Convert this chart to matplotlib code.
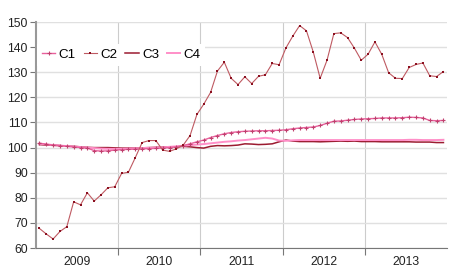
import matplotlib
matplotlib.use("Agg")
import matplotlib.pyplot as plt
import numpy as np

years = ["2009", "2010", "2011", "2012", "2013"]

c1 = [101.8, 101.3, 101.0, 100.8, 100.5, 100.3, 100.0, 99.8, 98.8, 98.6, 98.7, 99.0,
      99.2, 99.3, 99.4, 99.5, 99.6, 99.7, 99.8, 100.0, 100.3, 100.8, 101.5, 102.3,
      103.0, 104.0, 104.8, 105.5, 106.0, 106.3, 106.5, 106.6, 106.7, 106.7, 106.8, 106.9,
      107.1, 107.5, 107.8, 108.0, 108.2, 108.8, 109.7, 110.5, 110.6, 110.9, 111.2, 111.4,
      111.5, 111.6, 111.8, 111.8, 111.8, 111.9, 112.1, 112.0, 111.8, 110.8, 110.7, 110.8]

c2 = [67.8, 65.6, 63.6, 66.6, 68.5, 78.4, 77.2, 82.0, 78.7, 81.2, 84.0, 84.4,
      89.7, 90.2, 96.0, 102.0, 102.8, 102.8, 99.0, 98.5, 99.5, 101.0, 104.8, 113.2,
      117.3, 122.0, 130.5, 134.0, 127.6, 125.1, 128.2, 125.5, 128.4, 129.0, 133.5, 133.0,
      139.7, 144.4, 148.6, 146.5, 138.0, 127.6, 134.8, 145.4, 145.7, 143.8, 139.6, 134.8,
      137.2, 142.1, 137.1, 129.8, 127.6, 127.5, 131.9, 133.1, 133.7, 128.6, 128.3, 130.3]

c3 = [101.2, 101.0, 100.9, 100.8, 100.6, 100.5, 100.3, 100.1, 100.0, 100.0, 100.0, 99.9,
      99.8, 99.8, 99.8, 99.9, 100.0, 100.1, 100.2, 100.3, 100.3, 100.5, 100.3, 100.0,
      99.8, 100.5, 100.8, 100.7, 100.8, 101.0, 101.5, 101.4, 101.2, 101.3, 101.5, 102.3,
      103.0, 102.6, 102.4, 102.4, 102.4, 102.3, 102.4, 102.5, 102.6, 102.5, 102.6, 102.4,
      102.4, 102.4, 102.3, 102.3, 102.3, 102.3, 102.3, 102.2, 102.2, 102.2, 102.0, 102.0]

c4 = [101.5, 101.3, 101.0, 100.8, 100.6, 100.4, 100.2, 100.0, 99.8, 99.6, 99.5, 99.5,
      99.5, 99.6, 99.7, 99.8, 99.9, 100.0, 100.1, 100.3, 100.5, 100.7, 101.0, 101.2,
      101.4, 101.7, 102.0, 102.3, 102.5, 102.8, 103.0, 103.3, 103.6, 103.9, 103.6, 102.8,
      102.7, 102.9, 103.0, 103.0, 103.0, 103.0, 103.0, 103.0, 103.0, 103.0, 103.0, 103.0,
      103.0, 103.0, 103.0, 103.0, 103.0, 103.0, 103.1, 103.1, 103.0, 103.0, 103.0, 103.1]

plt.rcParams['font.family'] = ['Liberation Sans', 'DejaVu Sans']

fig = plt.figure(figsize=(4.5, 2.79), dpi=100)
ax = fig.add_axes([0.08, 0.111, 0.913, 0.81])

x = np.arange(len(c2)) + 0.5

ax.plot(x, c3, color='#9b1b30', lw=1.1, label='C3', zorder=3)
ax.plot(x, c4, color='#ff8fc8', lw=1.4, label='C4', zorder=3)
ax.plot(x, c1, color='#e8609c', lw=1.0, marker='+', ms=3, mew=0.8, mec='#c0406e', label='C1', zorder=4)
ax.plot(x, c2, color='#bf5a62', lw=0.8, marker='s', ms=1.6, mew=0, mfc='#8b1020', label='C2', zorder=4)

ax.set_xlim(0, len(c2))
ax.set_ylim(60, 150)
ax.set_yticks(np.arange(60, 151, 10))
ax.yaxis.grid(True, color='#e0e0e0', lw=1)
ax.set_axisbelow(True)

n = len(years)
ax.set_xticks([12 * i for i in range(1, n)])
ax.set_xticklabels([])
ax.xaxis.grid(True, color='#cccccc', lw=0.8)
ax.set_xticks([12 * i + 6 for i in range(n)], minor=True)
ax.set_xticklabels(years, minor=True)
ax.tick_params(axis='x', which='minor', length=0, pad=6, labelsize=8.8, labelcolor='#222222')
ax.tick_params(axis='x', which='major', length=5, color='#777777', direction='out')
ax.tick_params(axis='y', length=4, color='#777777', labelsize=8.8, labelcolor='#222222', pad=2)

for s in ['top', 'right']:
    ax.spines[s].set_visible(False)
ax.spines['left'].set_color('#999999')
ax.spines['left'].set_linewidth(1.5)
ax.spines['bottom'].set_color('#777777')

handles, labels = ax.get_legend_handles_labels()
order = [labels.index(l) for l in ['C1', 'C2', 'C3', 'C4']]
leg = ax.legend([handles[i] for i in order], [labels[i] for i in order],
                loc='center left', bbox_to_anchor=(0.003, 0.855), ncol=4, frameon=True,
                fontsize=9.6, handlelength=1.0, handletextpad=0.25, columnspacing=0.6,
                borderpad=0.35, borderaxespad=0, fancybox=False, edgecolor='white', framealpha=1)
leg.get_frame().set_linewidth(0)
leg.set_zorder(10)

fig.savefig('out.png', dpi=100, facecolor='white')
